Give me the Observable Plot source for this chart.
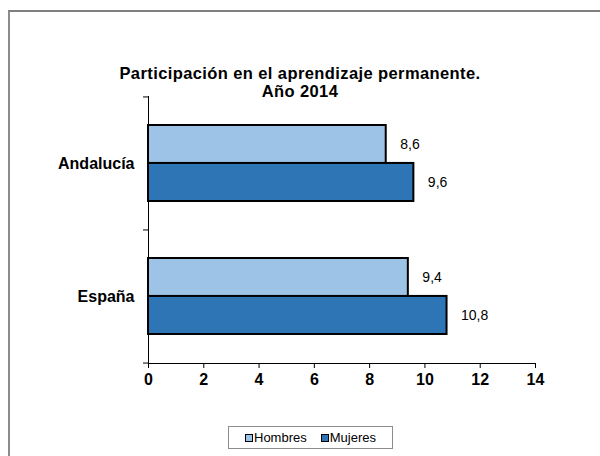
<!DOCTYPE html>
<html>
<head>
<meta charset="utf-8">
<script src="https://cdn.jsdelivr.net/npm/d3@7"></script>
<script src="https://cdn.jsdelivr.net/npm/@observablehq/plot@0.6"></script>
<style>
  html, body { margin: 0; padding: 0; background: #fff; }
  #page { position: relative; width: 600px; height: 456px; overflow: hidden; font-family: "Liberation Sans", Arial, sans-serif; }
  #border { position: absolute; left: 8px; top: 10px; width: 700px; height: 600px; border-top: 2px solid #7f7f7f; border-left: 2px solid #8c8c8c; }
  #title { position: absolute; left: 0; top: 64px; width: 600px; text-align: center; font-weight: bold; font-size: 16.5px; letter-spacing: 0.4px; line-height: 18px; color: #000; }
  #chart { position: absolute; left: 0; top: 86px; }
  #legend { position: absolute; left: 228px; top: 426px; width: 165px; height: 23px; border: 1px solid #8c8c8c; box-sizing: border-box; font-size: 13px; display: flex; align-items: center; justify-content: center; gap: 14px; }
  .item { display: flex; align-items: center; }
  .sw { width: 6px; height: 6px; border: 1px solid #000; margin-right: 1px; }
</style>
</head>
<body>
<div id="page">
  <div id="border"></div>
  <div id="title">Participación en el aprendizaje permanente.<br>Año 2014</div>
  <div id="chart"></div>
  <div id="legend"></div>
</div>
<script>
const countries = ["Andalucía", "España"];
const series = ["Hombres", "Mujeres"];
const hombres = [8.6, 9.4];
const mujeres = [9.6, 10.8];
const xTicks = [0, 2, 4, 6, 8, 10, 12, 14];
const colors = ["#9DC3E6", "#2E75B6"];

const rows = countries.flatMap((c, i) => [
  {country: c, sex: "Hombres", value: hombres[i]},
  {country: c, sex: "Mujeres", value: mujeres[i]}
]);
const fmt = v => v.toFixed(1).replace(".", ",");

const H = 320, mTop = 10, mBottom = 43;
const innerH = H - mTop - mBottom;
const pIn = 0.43, pOut = 0.218;
const step = innerH / (countries.length - pIn + 2 * pOut);
const bw = step * (1 - pIn);
const half = bw / 2;

const chart = Plot.plot({
  width: 600,
  height: H,
  marginLeft: 148,
  marginRight: 65,
  marginTop: mTop,
  marginBottom: mBottom,
  style: {fontFamily: "'Liberation Sans', Arial, sans-serif", fontSize: "16px", fontWeight: "bold", color: "#000", background: "transparent"},
  x: {domain: [0, 14], ticks: xTicks, tickSize: 5, tickPadding: 5, label: null, line: true, tickFormat: d => String(d)},
  y: {domain: countries, paddingInner: pIn, paddingOuter: pOut, tickSize: 0, tickPadding: 14, label: null, line: true},
  color: {domain: series, range: colors},
  marks: [
    Plot.barX(rows.filter(d => d.sex === "Hombres"), {x: "value", y: "country", fill: "sex", stroke: "#000", strokeWidth: 2, insetBottom: half}),
    Plot.barX(rows.filter(d => d.sex === "Mujeres"), {x: "value", y: "country", fill: "sex", stroke: "#000", strokeWidth: 2, insetTop: half}),
    Plot.text(rows.filter(d => d.sex === "Hombres"), {x: "value", y: "country", text: d => fmt(d.value), dx: 14, dy: -half / 2, textAnchor: "start", fontWeight: "normal", fontSize: 14}),
    Plot.text(rows.filter(d => d.sex === "Mujeres"), {x: "value", y: "country", text: d => fmt(d.value), dx: 14, dy: half / 2, textAnchor: "start", fontWeight: "normal", fontSize: 14}),
    Plot.ruleY(countries, {y: d => d, x1: 0, x2: 0, insetLeft: -5, dy: -step / 2, stroke: "#000"}),
    Plot.ruleY([countries[countries.length - 1]], {y: d => d, x1: 0, x2: 0, insetLeft: -5, dy: step / 2, stroke: "#000"})
  ]
});
document.getElementById("chart").appendChild(chart);

const legend = document.getElementById("legend");
series.forEach((s, i) => {
  const it = document.createElement("div");
  it.className = "item";
  const sw = document.createElement("div");
  sw.className = "sw";
  sw.style.background = colors[i];
  const t = document.createElement("span");
  t.textContent = s;
  it.appendChild(sw);
  it.appendChild(t);
  legend.appendChild(it);
});
</script>
</body>
</html>
